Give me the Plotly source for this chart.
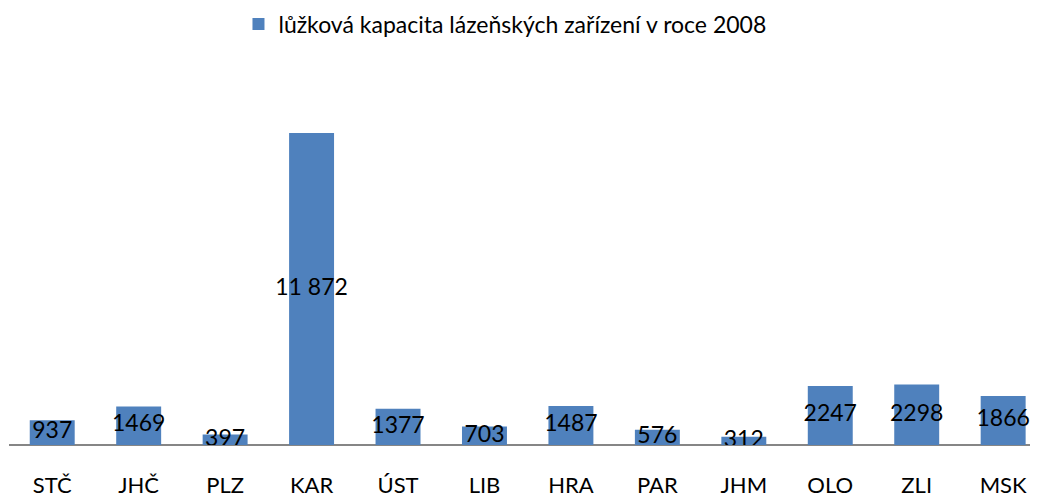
import plotly.graph_objects as go

categories = ["STČ", "JHČ", "PLZ", "KAR", "ÚST", "LIB", "HRA", "PAR", "JHM", "OLO", "ZLI", "MSK"]
values = [937, 1469, 397, 11872, 1377, 703, 1487, 576, 312, 2247, 2298, 1866]
labels = ["937", "1469", "397", "11 872", "1377", "703", "1487", "576", "312", "2247", "2298", "1866"]
series_name = "lůžková kapacita lázeňských zařízení v roce 2008"

FONT = "Lato, Open Sans, sans-serif"
BLUE = "#4F81BD"

fig = go.Figure()
fig.add_trace(go.Bar(
    x=categories, y=values, name=series_name,
    marker=dict(color=BLUE, line=dict(width=0)),
    hoverinfo="x+y",
))
fig.add_trace(go.Scatter(
    x=categories, y=[v / 2 for v in values], mode="text",
    text=labels, textposition="middle center",
    textfont=dict(family=FONT, size=23, color="black"),
    showlegend=False, hoverinfo="skip",
))

fig.update_layout(
    width=1038, height=499,
    margin=dict(l=1, r=8, t=69, b=61.5, autoexpand=False),
    paper_bgcolor="white", plot_bgcolor="white",
    bargap=0.48,
    font=dict(family=FONT, size=22, color="black"),
    showlegend=True,
    legend=dict(
        orientation="h", x=0.482, xanchor="center", y=1.144, yanchor="middle",
        font=dict(family=FONT, size=23, color="black"),
        itemwidth=30,
    ),
    xaxis=dict(
        range=[-0.5, 11.403], showgrid=False, showline=False,
        ticks="", tickfont=dict(family=FONT, size=22, color="black"),
        fixedrange=True, automargin=False, ticklabelstandoff=25,
    ),
    yaxis=dict(
        range=[0, 14000], showgrid=False, showticklabels=False,
        zeroline=True, zerolinecolor="#868686", zerolinewidth=2,
        fixedrange=True, automargin=False,
    ),
)

fig.write_html("out.html")
